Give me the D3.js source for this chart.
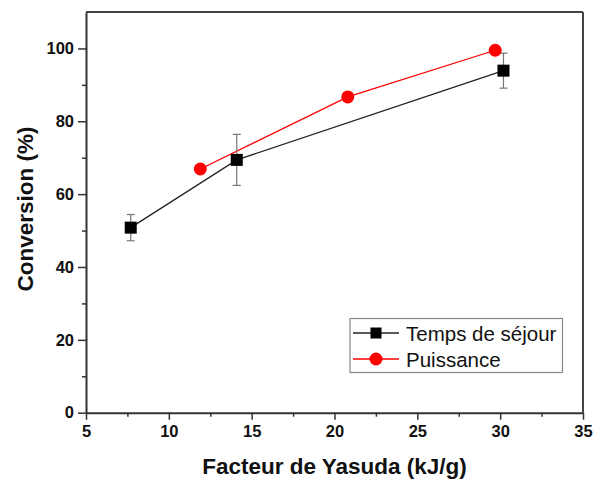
<!DOCTYPE html>
<html>
<head>
<meta charset="utf-8">
<script src="https://cdn.jsdelivr.net/npm/d3@7"></script>
<style>
  html, body { margin: 0; padding: 0; background: #fff; }
  svg { display: block; font-family: Arial, "Liberation Sans", sans-serif; }
</style>
</head>
<body>
<svg id="chart" width="596" height="481"></svg>
<script>
// Data
const seriesNames = ["Temps de séjour", "Puissance"];
const tempsX = [7.7, 14.1, 30.2];
const tempsY = [50.8, 69.4, 93.9];
const tempsErr = [3.6, 7.0, 4.8];
const puissanceX = [11.9, 20.8, 29.7];
const puissanceY = [66.9, 86.7, 99.5];
const xTicks = [5, 10, 15, 20, 25, 30, 35];
const yTicks = [0, 20, 40, 60, 80, 100];
const xLabel = "Facteur de Yasuda (kJ/g)";
const yLabel = "Conversion (%)";

const svg = d3.select("#chart");
const m = { left: 86, right: 583, top: 12, bottom: 412.7 };

const x = d3.scaleLinear().domain([5, 35]).range([m.left, m.right]);
const y = d3.scaleLinear().domain([0, 110]).range([m.bottom, m.top]);

const axisColor = "#333";

// frame top and right
svg.append("line").attr("x1", m.left).attr("x2", m.right).attr("y1", m.top).attr("y2", m.top)
  .attr("stroke", "#444").attr("stroke-width", 2);
svg.append("line").attr("x1", m.right).attr("x2", m.right).attr("y1", m.top).attr("y2", m.bottom)
  .attr("stroke", "#444").attr("stroke-width", 2);

// minor ticks
const xMinor = d3.range(7.5, 35, 5);
const yMinor = d3.range(10, 110, 20);
svg.append("g").attr("transform", `translate(0,${m.bottom})`)
  .call(d3.axisBottom(x).tickValues(xMinor).tickSize(4).tickFormat(""))
  .call(g => g.select(".domain").remove())
  .call(g => g.selectAll("line").attr("stroke", axisColor).attr("stroke-width", 1.5));
svg.append("g").attr("transform", `translate(${m.left},0)`)
  .call(d3.axisLeft(y).tickValues(yMinor).tickSize(4).tickFormat(""))
  .call(g => g.select(".domain").remove())
  .call(g => g.selectAll("line").attr("stroke", axisColor).attr("stroke-width", 1.5));

// major axes
const xAxis = svg.append("g").attr("transform", `translate(0,${m.bottom})`)
  .call(d3.axisBottom(x).tickValues(xTicks).tickSize(7).tickSizeOuter(0).tickPadding(6));
const yAxis = svg.append("g").attr("transform", `translate(${m.left},0)`)
  .call(d3.axisLeft(y).tickValues(yTicks).tickSize(8).tickSizeOuter(0).tickPadding(4));
[xAxis, yAxis].forEach(g => {
  g.select(".domain").attr("stroke", axisColor).attr("stroke-width", 2);
  g.selectAll(".tick line").attr("stroke", axisColor).attr("stroke-width", 1.5);
  g.selectAll(".tick text").attr("fill", "#111").attr("font-size", 16.5).attr("font-weight", "bold")
    .attr("font-family", "Arial, 'Liberation Sans', sans-serif");
});

// Axis titles
svg.append("text").attr("x", (200 + 469) / 2).attr("y", 474).attr("text-anchor", "middle")
  .attr("font-size", 22.5).attr("font-weight", "bold").attr("fill", "#111").text(xLabel);
svg.append("text").attr("transform", `translate(33,209) rotate(-90)`).attr("text-anchor", "middle")
  .attr("font-size", 22.5).attr("font-weight", "bold").attr("fill", "#111").text(yLabel);

const line = d3.line().x(d => x(d[0])).y(d => y(d[1]));
const temps = tempsX.map((v, i) => [v, tempsY[i], tempsErr[i]]);
const puis = puissanceX.map((v, i) => [v, puissanceY[i]]);

// Lines
svg.append("path").datum(temps).attr("d", line).attr("fill", "none").attr("stroke", "#222").attr("stroke-width", 1.3);
svg.append("path").datum(puis).attr("d", line).attr("fill", "none").attr("stroke", "#f00").attr("stroke-width", 1.3);

// Error bars
const eb = svg.append("g").attr("stroke", "#777").attr("stroke-width", 1.2);
temps.forEach(d => {
  eb.append("line").attr("x1", x(d[0])).attr("x2", x(d[0])).attr("y1", y(d[1] - d[2])).attr("y2", y(d[1] + d[2]));
  [d[1] - d[2], d[1] + d[2]].forEach(v => {
    eb.append("line").attr("x1", x(d[0]) - 4).attr("x2", x(d[0]) + 4).attr("y1", y(v)).attr("y2", y(v));
  });
});

// Markers
svg.append("g").selectAll("rect").data(temps).join("rect")
  .attr("x", d => x(d[0]) - 6).attr("y", d => y(d[1]) - 6).attr("width", 12).attr("height", 12)
  .attr("fill", "#000");
svg.append("g").selectAll("circle").data(puis).join("circle")
  .attr("cx", d => x(d[0])).attr("cy", d => y(d[1])).attr("r", 6.5).attr("fill", "#f00");

// Legend
const lg = svg.append("g");
lg.append("rect").attr("x", 350).attr("y", 318.5).attr("width", 212.5).attr("height", 54)
  .attr("fill", "#fff").attr("stroke", "#888").attr("stroke-width", 1.2);
const rows = [
  { name: seriesNames[0], color: "#000", cy: 333 },
  { name: seriesNames[1], color: "#f00", cy: 359 }
];
rows.forEach((r, i) => {
  lg.append("line").attr("x1", 353).attr("x2", 399).attr("y1", r.cy).attr("y2", r.cy)
    .attr("stroke", r.color === "#000" ? "#222" : "#f00").attr("stroke-width", 1.3);
  if (i === 0) {
    lg.append("rect").attr("x", 376 - 5.5).attr("y", r.cy - 5.5).attr("width", 11).attr("height", 11).attr("fill", "#000");
  } else {
    lg.append("circle").attr("cx", 376).attr("cy", r.cy).attr("r", 6.5).attr("fill", "#f00");
  }
  lg.append("text").attr("x", 406).attr("y", r.cy + 7.5).attr("font-size", 20.5).attr("fill", "#111").text(r.name);
});
</script>
</body>
</html>
